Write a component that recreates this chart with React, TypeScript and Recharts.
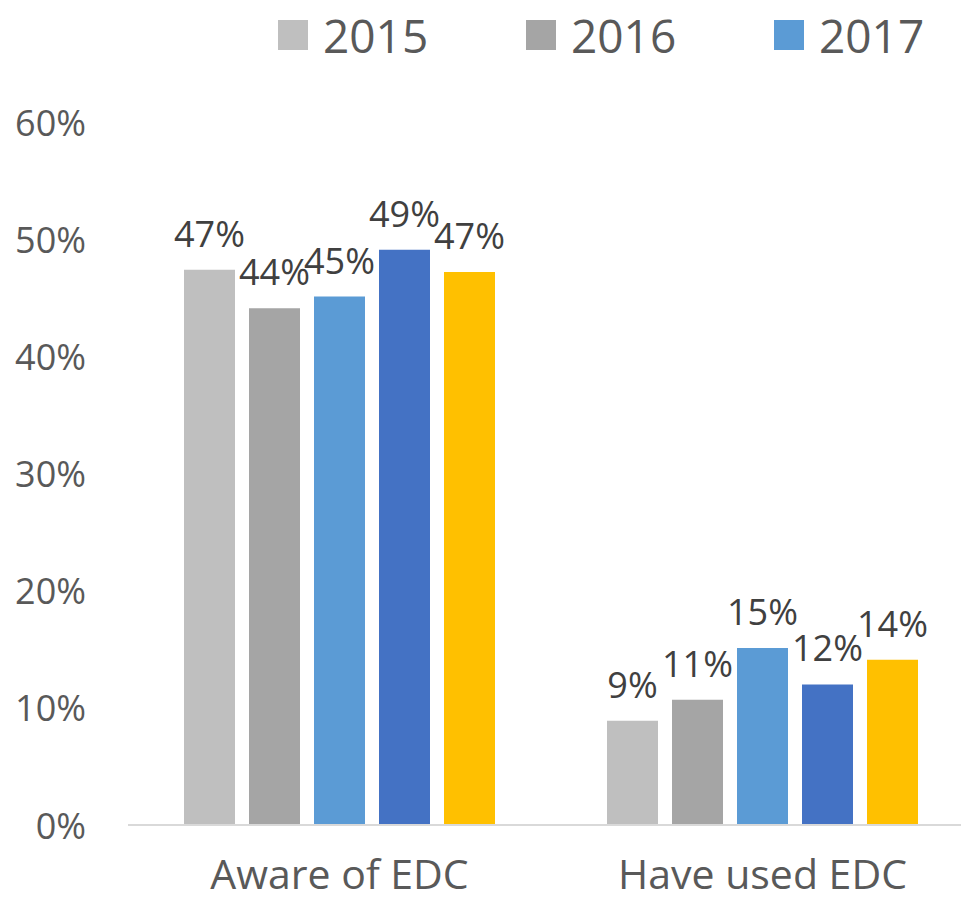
import { BarChart, Bar, XAxis, YAxis, LabelList } from "recharts";

// categories + one array per year
const categories = ["Aware of EDC", "Have used EDC"];
const years = ["2015", "2016", "2017", "2018", "2019"];
const values2015 = [0.474, 0.089];
const values2016 = [0.441, 0.107];
const values2017 = [0.451, 0.151];
const values2018 = [0.491, 0.12];
const values2019 = [0.472, 0.141];
const yTicks = [0, 0.1, 0.2, 0.3, 0.4, 0.5, 0.6];
// only the first three legend entries fit in the picture
const legendYears = years.slice(0, 3);

const colors = ["#BFBFBF", "#A5A5A5", "#5B9BD5", "#4472C4", "#FFC000"];
const seriesValues = [values2015, values2016, values2017, values2018, values2019];

const data = categories.map((name, i) => {
  const row: any = { name };
  years.forEach((y, k) => {
    row[y] = seriesValues[k][i];
  });
  return row;
});

const FONT = "'Open Sans', 'Noto Sans', sans-serif";
const pct = (v: any) => `${Math.round(Number(v) * 100)}%`;

function YTick(props: any) {
  const { y, payload } = props;
  return (
    <text
      x={86}
      y={y}
      dominantBaseline="central"
      textAnchor="end"
      fill="#595959"
      fontSize={36}
      fontFamily={FONT}
    >
      {pct(payload.value)}
    </text>
  );
}

function XTick(props: any) {
  const { x, payload } = props;
  return (
    <text
      x={x}
      y={889}
      textAnchor="middle"
      fill="#595959"
      fontSize={41}
      fontFamily={FONT}
    >
      {payload.value}
    </text>
  );
}

export default function App() {
  return (
    <div
      style={{
        position: "relative",
        width: 969,
        height: 902,
        margin: "-8px 0 0 -8px",
        overflow: "hidden",
        background: "#fff",
      }}
    >
      <div
        style={{
          position: "absolute",
          top: 16,
          left: 278,
          display: "flex",
          whiteSpace: "nowrap",
          fontFamily: FONT,
          fontSize: 46,
          color: "#595959",
          lineHeight: "38px",
        }}
      >
        {legendYears.map((y, k) => (
          <div
            key={y}
            style={{ display: "flex", alignItems: "center", width: 248, flexShrink: 0 }}
          >
            <span
              style={{
                display: "inline-block",
                width: 30,
                height: 30,
                background: colors[k],
                marginRight: 15,
              }}
            />
            <span>{y}</span>
          </div>
        ))}
      </div>
      <BarChart
        width={975}
        height={902}
        data={data}
        margin={{ top: 122, right: 1, bottom: 0, left: 0 }}
        barCategoryGap={56}
        barGap={14}
      >
        <XAxis
          dataKey="name"
          height={77}
          axisLine={{ stroke: "#D9D9D9", strokeWidth: 2 }}
          tickLine={false}
          tick={<XTick />}
          interval={0}
        />
        <YAxis
          width={128}
          domain={[0, 0.6]}
          ticks={yTicks}
          axisLine={false}
          tickLine={false}
          tick={<YTick />}
        />
        {years.map((y, k) => (
          <Bar key={y} dataKey={y} fill={colors[k]} isAnimationActive={false}>
            <LabelList
              dataKey={y}
              position="top"
              offset={23}
              formatter={pct}
              fill="#404040"
              fontSize={36}
              fontFamily={FONT}
            />
          </Bar>
        ))}
      </BarChart>
    </div>
  );
}
